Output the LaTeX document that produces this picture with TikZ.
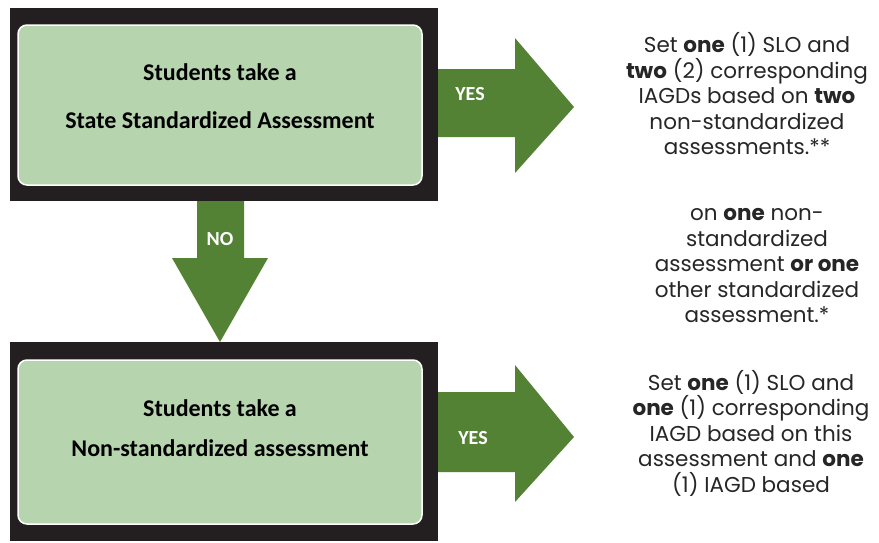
\documentclass[tikz,border=0pt]{standalone}
\usepackage{fontspec}
\setmainfont{Poppins}
\newfontfamily\boxfont{Carlito}
\definecolor{blk}{HTML}{231F20}
\definecolor{lightgreen}{HTML}{B6D4AD}
\definecolor{arrowgreen}{HTML}{548235}
\tikzset{
  frame/.style={fill=blk, draw=none},
  inner box/.style={fill=lightgreen, draw=white, line width=1.5pt, rounded corners=9pt},
  box text/.style={font=\boxfont\bfseries\fontsize{24}{28}\selectfont, text=black, align=center},
  arrow label/.style={font=\boxfont\bfseries\fontsize{20}{22}\selectfont, text=white},
  block arrow/.style={fill=arrowgreen, draw=none},
  side text/.style={font=\fontsize{21.5}{25.5}\selectfont, text=black!85, align=center}
}
\begin{document}
\begin{tikzpicture}[x=1pt,y=-1pt]
\useasboundingbox (0,0) rectangle (879,542);
% top box
\fill[frame] (10,8) rectangle (438,201);
\draw[inner box] (18,25) rectangle (422,185);
\node[box text] (topA) at (220,72) {Students take a};
\node[box text] (topB) at (220,120) {State Standardized Assessment};
% bottom box
\fill[frame] (10,342) rectangle (438,541);
\draw[inner box] (18,360) rectangle (422,524);
\node[box text] (botA) at (220,408) {Students take a};
\node[box text] (botB) at (220,448) {Non-standardized assessment};
% down arrow
\fill[block arrow] (197,201) -- (244,201) -- (244,258) -- (268,258) -- (220,342) -- (172,258) -- (197,258) -- cycle;
\node[arrow label] (no) at (220,239) {NO};
% top right arrow
\fill[block arrow] (438,69) -- (515,69) -- (515,38) -- (574,107) -- (515,173) -- (515,137) -- (438,137) -- cycle;
\node[arrow label] (yesA) at (470,94) {YES};
% bottom right arrow
\fill[block arrow] (438,392) -- (515,392) -- (515,365) -- (574,437) -- (515,502) -- (515,472) -- (438,472) -- cycle;
\node[arrow label] (yesB) at (473,438) {YES};
% side texts
\node[side text] (t1) at (747,94) {Set \textbf{one} (1) SLO and\\\textbf{two} (2) corresponding\\IAGDs based on \textbf{two}\\non-standardized\\assessments.**};
\node[side text] (t2) at (757,266) {on \textbf{one} non-\\standardized\\assessment \textbf{or one}\\other standardized\\assessment.*};
\node[side text] (t3) at (751,433) {Set \textbf{one} (1) SLO and\\\textbf{one} (1) corresponding\\IAGD based on this\\assessment and \textbf{one}\\(1) IAGD based};
\end{tikzpicture}
\end{document}
